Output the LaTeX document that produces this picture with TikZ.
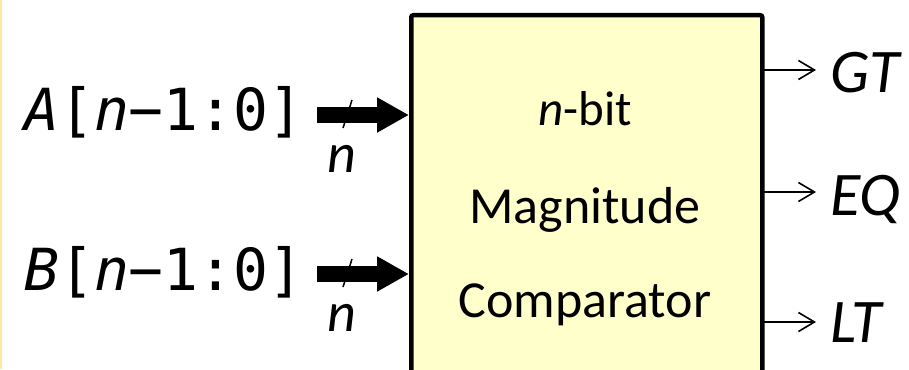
\documentclass[tikz,border=0pt]{standalone}
\usepackage{fontspec}
\setmainfont{Carlito}
\newfontfamily\monofam{DejaVu Sans Mono}
\usetikzlibrary{arrows.meta}
\definecolor{boxfill}{RGB}{255,255,204}
\definecolor{edgeyel}{RGB}{255,232,160}
\tikzset{
  busarrow/.style={line width=16pt, -{Triangle[length=32pt,width=33pt]}},
  outarrow/.style={line width=1.6pt, -{Straight Barb[length=16pt,width=19pt,line width=1.6pt]}},
  slashmark/.style={line width=1.5pt},
  buslabel/.style={anchor=base west, inner sep=0pt, font=\fontsize{58}{62}\selectfont\monofam},
  outlabel/.style={anchor=base west, inner sep=0pt, font=\fontsize{62}{66}\selectfont\itshape},
  nlabel/.style={anchor=base, inner sep=0pt, font=\fontsize{56}{60}\selectfont\itshape},
  boxtext/.style={anchor=base, inner sep=0pt, font=\fontsize{52}{56}\selectfont},
}
\begin{document}
\begin{tikzpicture}[x=1pt,y=-1pt]
\useasboundingbox (0,0) rectangle (909,369);
\clip (0,0) rectangle (909,369);
\fill[white] (0,0) rectangle (909,369);
\draw[edgeyel, line width=1.5pt] (0.75,0) -- (0.75,369);
% comparator box (extends below the picture)
\node[draw, line width=4.5pt, fill=boxfill, rounded corners=2pt, minimum width=351pt, minimum height=420pt, inner sep=0pt, anchor=north west] (box) at (409,13) {};
\node[boxtext, font=\fontsize{49}{53}\selectfont] (t1) at (585,125) {\textit{n}-bit};
\node[boxtext] (t2) at (585,223) {Magnitude};
\node[boxtext] (t3) at (585,317) {Comparator};
% inputs
\node[buslabel] (A) at (24,130) {{\itshape A}[{\itshape n}−1:0]};
\node[buslabel] (B) at (24,290) {{\itshape B}[{\itshape n}−1:0]};
\coordinate (as) at (317,115);
\coordinate (bs) at (317,274);
\draw[busarrow] (as) -- (as -| box.west);
\draw[busarrow] (bs) -- (bs -| box.west);
\draw[slashmark] (352,100) -- (343,128);
\draw[slashmark] (352,259) -- (343,287);
\node[nlabel] (na) at (342,172) {n};
\node[nlabel] (nb) at (342,331) {n};
% outputs
\coordinate (go) at (760,70);
\coordinate (eo) at (760,192);
\coordinate (lo) at (760,322);
\node[outlabel] (GT) at (830,92) {GT};
\node[outlabel] (EQ) at (830,215) {EQ};
\node[outlabel] (LT) at (830,342) {LT};
\draw[outarrow] (go) -- ([xshift=-14pt]go -| GT.west);
\draw[outarrow] (eo) -- ([xshift=-14pt]eo -| EQ.west);
\draw[outarrow] (lo) -- ([xshift=-14pt]lo -| LT.west);
\end{tikzpicture}
\end{document}
